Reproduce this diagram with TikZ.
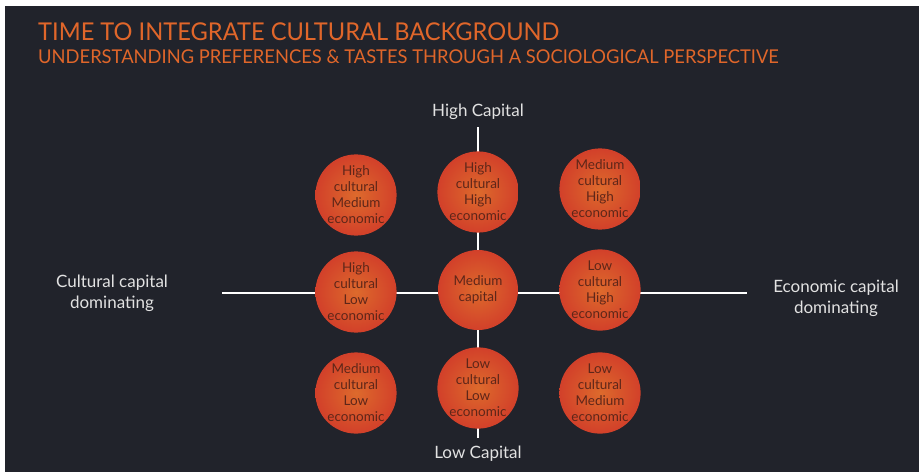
\documentclass[tikz,border=0pt]{standalone}
\usepackage{fontspec}
\setmainfont{Lato}
\newfontfamily\ttlfont[FakeStretch=0.965]{Lato}
\usetikzlibrary{shadings}
\definecolor{bgc}{HTML}{21232B}
\definecolor{ttl}{HTML}{E0662A}
\definecolor{lbl}{HTML}{E2E2E2}
\definecolor{ctext}{HTML}{5E2619}
\definecolor{cin}{HTML}{DD6A2C}
\definecolor{cout}{HTML}{D2402A}
\tikzset{
  bubble/.style={circle, minimum size=80pt, inner sep=0pt, inner color=cin, outer color=cout,
    text=ctext, font=\fontsize{13.5}{16}\selectfont, align=center},
  axis/.style={draw=white, line width=2.2pt},
  axlbl/.style={text=lbl, font=\fontsize{17}{21}\selectfont, align=center},
}
\begin{document}
\begin{tikzpicture}[x=1pt,y=-1pt]
\useasboundingbox (0,0) rectangle (919,472);
\fill[white] (0,0) rectangle (919,472);
\fill[bgc] (5,6) rectangle (919,472);
\node[anchor=base west, inner sep=0pt, text=ttl, font=\ttlfont\fontsize{24.5}{28}\selectfont] (title) at (38,40) {TIME TO INTEGRATE CULTURAL BACKGROUND};
\node[anchor=base west, inner sep=0pt, text=ttl, font=\ttlfont\fontsize{19}{22}\selectfont] (sub) at (38,63) {UNDERSTANDING PREFERENCES \& TASTES THROUGH A SOCIOLOGICAL PERSPECTIVE};
% axes
\coordinate (L) at (222,293);
\coordinate (R) at (747,293);
\coordinate (T) at (478,127);
\coordinate (B) at (478,438);
\draw[axis] (L) -- (R);
\draw[axis] (T) -- (B);
% labels
\node[axlbl] (hc) at (478,112) {High Capital};
\node[axlbl] (lc) at (478,454) {Low Capital};
\node[axlbl] (cd) at (112,293) {Cultural capital\\dominating};
\node[axlbl] (ed) at (836,298) {Economic capital\\dominating};
% bubbles
\node[bubble] (b11) at (356,195) {High\\cultural\\Medium\\economic};
\node[bubble] (b12) at (478,192) {High\\cultural\\High\\economic};
\node[bubble] (b13) at (600,189) {Medium\\cultural\\High\\economic};
\node[bubble] (b21) at (356,292) {High\\cultural\\Low\\economic};
\node[bubble] (b22) at (478,290) {Medium\\capital};
\node[bubble] (b23) at (600,290) {Low\\cultural\\High\\economic};
\node[bubble] (b31) at (356,393) {Medium\\cultural\\Low\\economic};
\node[bubble] (b32) at (478,388) {Low\\cultural\\Low\\economic};
\node[bubble] (b33) at (600,393) {Low\\cultural\\Medium\\economic};
\end{tikzpicture}
\end{document}
